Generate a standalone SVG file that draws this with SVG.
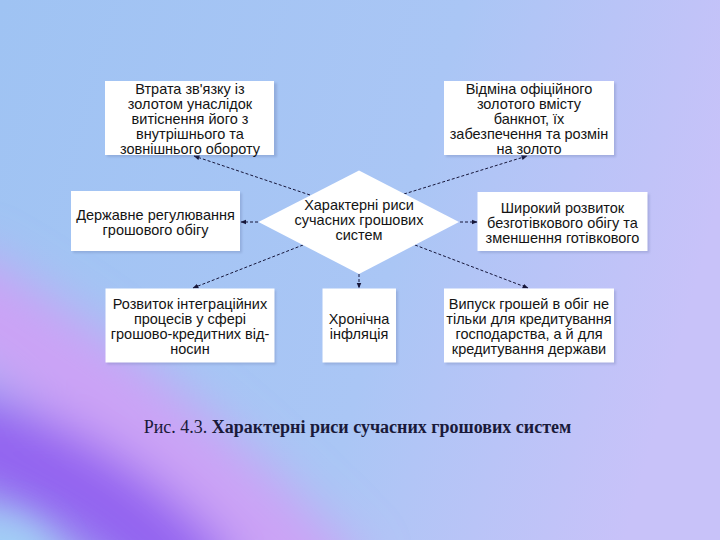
<svg xmlns="http://www.w3.org/2000/svg" width="720" height="540" viewBox="0 0 720 540">
<defs>
<linearGradient id="bg" x1="0" y1="0" x2="720" y2="200" gradientUnits="userSpaceOnUse">
<stop offset="0" stop-color="#9fc3f3"/>
<stop offset="0.6" stop-color="#aac6f5"/>
<stop offset="1" stop-color="#c8c2f9"/>
</linearGradient>
<filter id="blur40" x="-50%" y="-50%" width="200%" height="200%"><feGaussianBlur stdDeviation="24"/></filter>
<filter id="blur20" x="-50%" y="-50%" width="200%" height="200%"><feGaussianBlur stdDeviation="18"/></filter>
<filter id="sh" x="-10%" y="-10%" width="130%" height="130%"><feGaussianBlur stdDeviation="1"/></filter>
<marker id="ah" viewBox="0 0 10 10" refX="9" refY="5" markerWidth="6" markerHeight="6" orient="auto" markerUnits="userSpaceOnUse">
<path d="M0,1 L10,5 L0,9 z" fill="#16163a"/>
</marker>
<style>
.box{fill:#ffffff;}
.shadow{fill:#5a6a9a;opacity:0.25;}
.t{font-family:"Liberation Sans",Arial,sans-serif;font-size:14.5px;fill:#141414;text-anchor:middle;}
.c{stroke:#16163a;stroke-width:1;stroke-dasharray:3,2;fill:none;marker-end:url(#ah);}
.cap{font-family:"Liberation Serif","Times New Roman",serif;font-size:18px;fill:#1a1a3a;}
</style>
</defs>
<rect x="0" y="0" width="720" height="540" fill="url(#bg)"/>
<g filter="url(#blur40)">
<path d="M-60,290 Q140,400 330,600" stroke="#cfa0f6" stroke-width="100" fill="none" opacity="0.9"/>
<path d="M-60,430 Q110,480 205,600" stroke="#9364f0" stroke-width="95" fill="none"/>
</g>
<circle cx="0" cy="575" r="55" fill="#a2cff6" filter="url(#blur20)"/>

<g id="connectors">
<line class="c" x1="310" y1="195" x2="194" y2="156"/>
<line class="c" x1="404" y1="194" x2="527" y2="156"/>
<line class="c" x1="258" y1="222" x2="241" y2="222"/>
<line class="c" x1="460" y1="222" x2="477" y2="222"/>
<line class="c" x1="303" y1="245" x2="193" y2="288"/>
<line class="c" x1="359" y1="274" x2="359" y2="288"/>
<line class="c" x1="415" y1="245" x2="528" y2="288"/>
</g>

<g id="n1">
<rect class="shadow" x="107" y="83" width="170" height="74" filter="url(#sh)"/>
<rect class="box" x="105" y="81" width="169" height="74"/>
<text class="t" x="190" y="94">Втрата зв'язку із</text>
<text class="t" x="190" y="109">золотом унаслідок</text>
<text class="t" x="190" y="124">витіснення його з</text>
<text class="t" x="190" y="139">внутрішнього та</text>
<text class="t" x="190" y="153.5">зовнішнього обороту</text>
</g>
<g id="n2">
<rect class="shadow" x="446" y="83" width="170" height="74" filter="url(#sh)"/>
<rect class="box" x="444" y="81" width="170" height="74"/>
<text class="t" x="529" y="94">Відміна офіційного</text>
<text class="t" x="529" y="109">золотого вмісту</text>
<text class="t" x="529" y="124">банкнот, їх</text>
<text class="t" x="529" y="139">забезпечення та розмін</text>
<text class="t" x="529" y="153.5">на золото</text>
</g>
<g id="n3">
<rect class="shadow" x="73" y="193" width="169" height="60" filter="url(#sh)"/>
<rect class="box" x="71" y="191" width="169" height="60"/>
<text class="t" x="155.5" y="220">Державне регулювання</text>
<text class="t" x="155.5" y="235">грошового обігу</text>
</g>
<g id="center">
<polygon points="359,170.5 459,222 359,274 258.5,222" fill="#ffffff"/>
<text class="t" x="359" y="210">Характерні риси</text>
<text class="t" x="359" y="224.5">сучасних грошових</text>
<text class="t" x="359" y="239.5">систем</text>
</g>
<g id="n4">
<rect class="shadow" x="479.5" y="194" width="170" height="59" filter="url(#sh)"/>
<rect class="box" x="477.5" y="192" width="170" height="59"/>
<text class="t" x="562.5" y="213">Широкий розвиток</text>
<text class="t" x="562.5" y="228">безготівкового обігу та</text>
<text class="t" x="562.5" y="243">зменшення готівкового</text>
</g>
<g id="n5">
<rect class="shadow" x="107" y="290.5" width="169" height="74" filter="url(#sh)"/>
<rect class="box" x="105.5" y="288.5" width="169" height="74"/>
<text class="t" x="190" y="309">Розвиток інтеграційних</text>
<text class="t" x="190" y="324">процесів у сфері</text>
<text class="t" x="190" y="339">грошово-кредитних від-</text>
<text class="t" x="190" y="354">носин</text>
</g>
<g id="n6">
<rect class="shadow" x="324" y="290.5" width="74" height="74" filter="url(#sh)"/>
<rect class="box" x="322.5" y="288.5" width="73.5" height="74"/>
<text class="t" x="359" y="324">Хронічна</text>
<text class="t" x="359" y="339">інфляція</text>
</g>
<g id="n7">
<rect class="shadow" x="446" y="290.5" width="170" height="74" filter="url(#sh)"/>
<rect class="box" x="444" y="288.5" width="170" height="74"/>
<text class="t" x="529" y="309">Випуск грошей в обіг не</text>
<text class="t" x="529" y="324">тільки для кредитування</text>
<text class="t" x="529" y="339">господарства, а й для</text>
<text class="t" x="529" y="354">кредитування держави</text>
</g>
<text class="cap" x="357.5" y="433" text-anchor="middle">Рис. 4.3. <tspan font-weight="bold">Характерні риси сучасних грошових систем</tspan></text>
</svg>
